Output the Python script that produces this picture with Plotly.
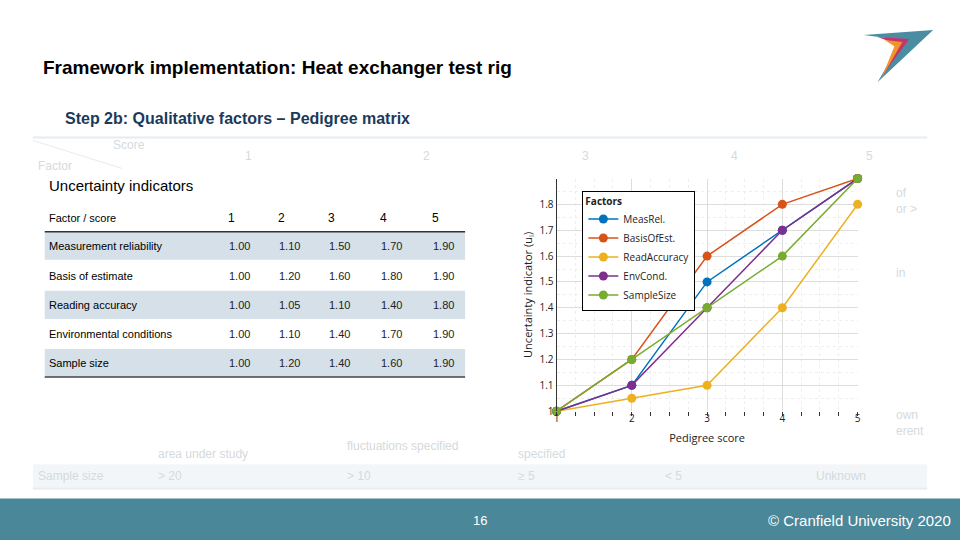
import plotly.graph_objects as go

scores = [1, 2, 3, 4, 5]
series_names = ["MeasRel.", "BasisOfEst.", "ReadAccuracy", "EnvCond.", "SampleSize"]
meas_rel = [1.00, 1.10, 1.50, 1.70, 1.90]
basis_est = [1.00, 1.20, 1.60, 1.80, 1.90]
read_acc = [1.00, 1.05, 1.10, 1.40, 1.80]
env_cond = [1.00, 1.10, 1.40, 1.70, 1.90]
sample_size = [1.00, 1.20, 1.40, 1.60, 1.90]
row_labels = ["Measurement reliability", "Basis of estimate", "Reading accuracy",
              "Environmental conditions", "Sample size"]
colors = ["#0072BD", "#D95319", "#EDB120", "#7E2F8E", "#77AC30"]

W, H = 960, 540
SY = 0.986
def px(x): return x / W
def py(y): return 1 - (y / SY) / H

fig = go.Figure()
for name, vals, c in zip(series_names, [meas_rel, basis_est, read_acc, env_cond, sample_size], colors):
    fig.add_trace(go.Scatter(x=scores, y=vals, name=name, mode="lines+markers",
                             line=dict(color=c, width=1.5),
                             marker=dict(color=c, size=9), cliponaxis=False))

shapes = []
ann = []
def text(t, x, y, size, color, anchor="left", family="Liberation Sans"):
    ann.append(dict(text=t, x=px(x), y=py(y), xref="paper", yref="paper", xanchor=anchor, yanchor="middle",
                    showarrow=False, borderpad=0, font=dict(family=family, size=size, color=color)))

faded = "#d4dadd"
shapes.append(dict(type="line", xref="paper", yref="paper", x0=px(30), x1=px(930), y0=py(137), y1=py(137), line=dict(color="#e6ecef", width=2), layer="below"))
shapes.append(dict(type="line", xref="paper", yref="paper", x0=px(30), x1=px(120), y0=py(140), y1=py(168), line=dict(color="#e6ecef", width=1), layer="below"))
shapes.append(dict(type="rect", xref="paper", yref="paper", x0=px(30), x1=px(930), y0=py(486), y1=py(463), fillcolor="#f3f6f8", line=dict(width=0), layer="below"))
shapes.append(dict(type="line", xref="paper", yref="paper", x0=px(30), x1=px(930), y0=py(487), y1=py(487), line=dict(color="#e6ecef", width=2), layer="below"))
for t, x, y in [("Score", 110, 145), ("Factor", 34, 166), ("1", 243, 156), ("2", 422, 156), ("3", 582, 156), ("4", 732, 156), ("5", 867, 156),
                ("Sample size", 34, 475), ("> 20", 155, 475), ("> 10", 345, 475), ("≥ 5", 517, 475), ("< 5", 665, 475), ("Unknown", 817, 475),
                ("area under study", 155, 453), ("fluctuations specified", 345, 445), ("specified", 517, 453),
                ("own", 898, 414), ("erent", 898, 430), ("of", 898, 192), ("or >", 898, 208), ("in", 898, 272)]:
    text(t, x, y, 12, faded)
shapes.append(dict(type="rect", xref="paper", yref="paper", x0=px(30), x1=px(495), y0=py(396), y1=py(172), fillcolor="white", line=dict(width=0), layer="below"))
shapes.append(dict(type="rect", xref="paper", yref="paper", x0=px(505), x1=px(895), y0=py(458), y1=py(172), fillcolor="white", line=dict(width=0), layer="below"))

text("Uncertainty indicators", 45, 185, 15, "black")
colx = [230, 280, 331, 383, 435]
hdr_y = 217
text("Factor / score", 45, hdr_y, 11, "black")
for i, s in enumerate(scores):
    text(str(s), colx[i], hdr_y, 12, "black", "center")
shapes.append(dict(type="line", xref="paper", yref="paper", x0=px(42), x1=px(465), y0=py(231), y1=py(231), line=dict(color="#333", width=1.5)))
shapes.append(dict(type="line", xref="paper", yref="paper", x0=px(42), x1=px(465), y0=py(376), y1=py(376), line=dict(color="#444", width=1.5)))
rows_y = [245, 275, 304, 333, 362]
all_vals = [meas_rel, basis_est, read_acc, env_cond, sample_size]
for r, (lab, vals, y) in enumerate(zip(row_labels, all_vals, rows_y)):
    if r % 2 == 0:
        shapes.append(dict(type="rect", xref="paper", yref="paper", x0=px(42), x1=px(465), y0=py(y + 14), y1=py(y - 14), fillcolor="#d5e0e9", line=dict(width=0), layer="below"))
    text(lab, 45, y, 11, "black")
    for i, v in enumerate(vals):
        text(f"{v:.2f}", colx[i] + 8, y, 11, "#222", "center")

text("<b>Framework implementation: Heat exchanger test rig</b>", 39, 67, 19, "black")
text("<b>Step 2b: Qualitative factors – Pedigree matrix</b>", 61, 118, 16, "#1a3a5c")

shapes.append(dict(type="rect", xref="paper", yref="paper", x0=-0.05, x1=1.05, y0=-0.05, y1=py(497), fillcolor="#4a8799", line=dict(width=0)))
text("16", 480, 519, 13, "white", "center")
text("© Cranfield University 2020", 955, 519, 15, "white", "right")

shapes.append(dict(type="path", xref="paper", yref="paper",
                   path=f"M {px(866)},{py(35)} L {px(936)},{py(30)} L {px(880)},{py(82)} L {px(905)},{py(40)} Z",
                   fillcolor="#4a8da3", line=dict(width=0)))
shapes.append(dict(type="path", xref="paper", yref="paper",
                   path=f"M {px(880)},{py(37)} L {px(912)},{py(39)} L {px(885)},{py(75)} L {px(900)},{py(44)} Z",
                   fillcolor="#c8336c", line=dict(width=0)))
shapes.append(dict(type="path", xref="paper", yref="paper",
                   path=f"M {px(887)},{py(40)} L {px(905)},{py(42)} L {px(884)},{py(78)} L {px(897)},{py(46)} Z",
                   fillcolor="#f0962a", line=dict(width=0)))

fig.update_layout(
    width=W, height=H, margin=dict(l=0, r=0, t=0, b=0), paper_bgcolor="white", plot_bgcolor="white",
    shapes=shapes, annotations=ann, font=dict(family="Open Sans", size=10, color="#222"),
    showlegend=True,
    legend=dict(x=px(583), y=py(190), xanchor="left", yanchor="top", bgcolor="white", bordercolor="black", borderwidth=1,
                title=dict(text="<b>Factors</b>", side="top", font=dict(size=10)), font=dict(size=10), tracegroupgap=0, itemwidth=30),
    xaxis=dict(domain=[px(557), px(860)], range=[1, 5], tickvals=scores, showline=False, zeroline=False,
               gridcolor="#dddddd", ticks="", title=dict(text="Pedigree score", font=dict(size=11), standoff=10),
               minor=dict(dtick=0.25, showgrid=True, gridcolor="#eeeeee", griddash="dot", ticks="outside", ticklen=4, tickcolor="#333")),
    yaxis=dict(domain=[py(410), py(178)], range=[1, 1.9], tickvals=[1, 1.1, 1.2, 1.3, 1.4, 1.5, 1.6, 1.7, 1.8],
               ticktext=["1", "1.1", "1.2", "1.3", "1.4", "1.5", "1.6", "1.7", "1.8"], showline=True, linecolor="#333",
               zeroline=False, gridcolor="#dddddd", title=dict(text="Uncertainty indicator (u<sub>i</sub>)", font=dict(size=11), standoff=4),
               minor=dict(dtick=0.05, showgrid=True, gridcolor="#eeeeee", griddash="dot")),
)
fig.write_html("out.html", config={"displayModeBar": False},
               post_script="document.body.style.margin='0';document.body.style.overflow='hidden';")
